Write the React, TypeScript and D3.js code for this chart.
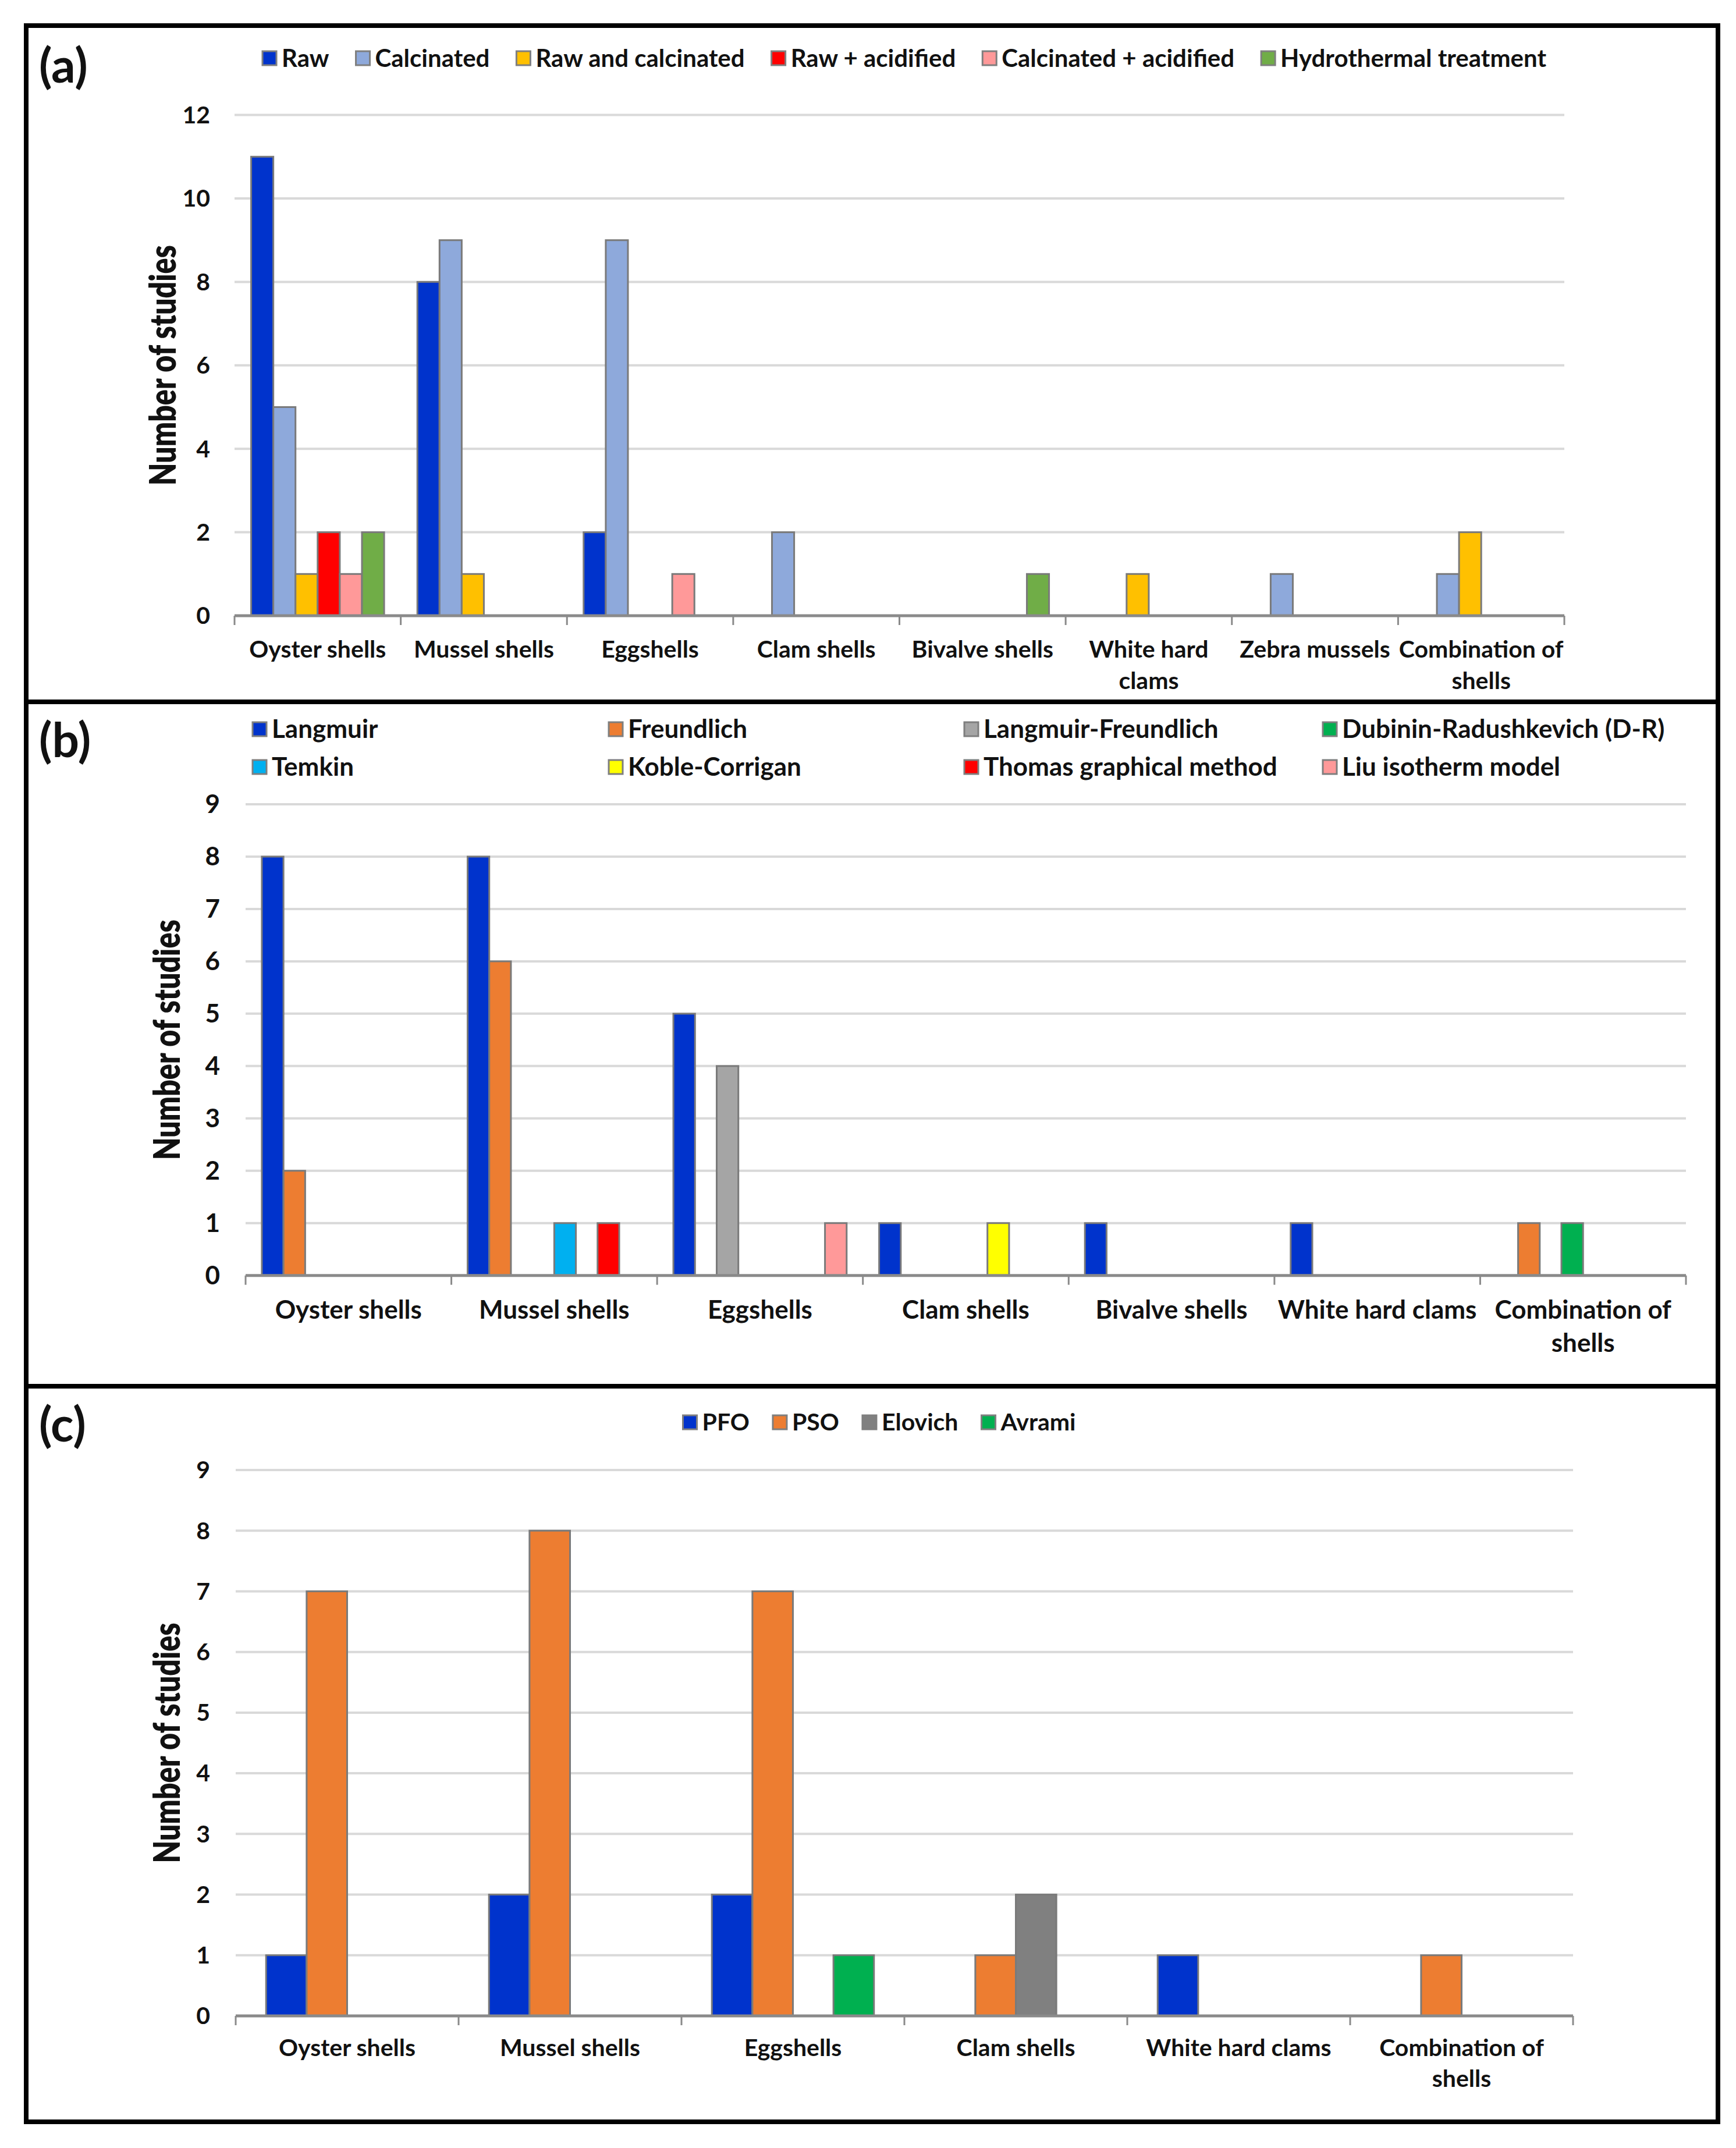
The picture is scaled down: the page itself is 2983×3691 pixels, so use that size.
import React, { useRef, useEffect } from 'react';
import * as d3 from 'd3';

const W = 2983;
const H = 3691;
const FONT = 'Lato, "Open Sans", sans-serif';

// (a) pre-treatment of the shells
const catsA = ['Oyster shells', 'Mussel shells', 'Eggshells', 'Clam shells', 'Bivalve shells', 'White hard\nclams', 'Zebra mussels', 'Combination of\nshells'];
const seriesA = ['Raw', 'Calcinated', 'Raw and calcinated', 'Raw + acidified', 'Calcinated + acidified', 'Hydrothermal treatment'];
const colorsA = ['#0033CC', '#8EA9DB', '#FFC000', '#FF0000', '#FF9999', '#70AD47'];
const rawA = [11, 8, 2, 0, 0, 0, 0, 0];
const calcinatedA = [5, 9, 9, 2, 0, 0, 1, 1];
const rawCalcA = [1, 1, 0, 0, 0, 1, 0, 2];
const rawAcidA = [2, 0, 0, 0, 0, 0, 0, 0];
const calcAcidA = [1, 0, 1, 0, 0, 0, 0, 0];
const hydroA = [2, 0, 0, 0, 1, 0, 0, 0];
const ticksA = [0, 2, 4, 6, 8, 10, 12];

// (b) isotherm models
const catsB = ['Oyster shells', 'Mussel shells', 'Eggshells', 'Clam shells', 'Bivalve shells', 'White hard clams', 'Combination of\nshells'];
const seriesB = ['Langmuir', 'Freundlich', 'Langmuir-Freundlich', 'Dubinin-Radushkevich (D-R)', 'Temkin', 'Koble-Corrigan', 'Thomas graphical method', 'Liu isotherm model'];
const colorsB = ['#0033CC', '#ED7D31', '#A5A5A5', '#00B050', '#00B0F0', '#FFFF00', '#FF0000', '#FF9999'];
const langmuirB = [8, 8, 5, 1, 1, 1, 0];
const freundlichB = [2, 6, 0, 0, 0, 0, 1];
const langFreundB = [0, 0, 4, 0, 0, 0, 0];
const drB = [0, 0, 0, 0, 0, 0, 1];
const temkinB = [0, 1, 0, 0, 0, 0, 0];
const kobleB = [0, 0, 0, 1, 0, 0, 0];
const thomasB = [0, 1, 0, 0, 0, 0, 0];
const liuB = [0, 0, 1, 0, 0, 0, 0];
const ticksB = [0, 1, 2, 3, 4, 5, 6, 7, 8, 9];

// (c) kinetic models
const catsC = ['Oyster shells', 'Mussel shells', 'Eggshells', 'Clam shells', 'White hard clams', 'Combination of\nshells'];
const seriesC = ['PFO', 'PSO', 'Elovich', 'Avrami'];
const colorsC = ['#0033CC', '#ED7D31', '#808080', '#00B050'];
const pfoC = [1, 2, 2, 0, 1, 0];
const psoC = [7, 8, 7, 1, 0, 1];
const elovichC = [0, 0, 0, 2, 0, 0];
const avramiC = [0, 0, 1, 0, 0, 0];
const ticksC = [0, 1, 2, 3, 4, 5, 6, 7, 8, 9];

type Panel = {
  tag: string;
  tagY: number;
  cats: string[];
  series: string[];
  colors: string[];
  values: number[][];
  ticks: number[];
  left: number;
  right: number;
  y0: number;
  yTop: number;
  tickX: number;
  titleX: number;
  labelY: number;
  lineH: number;
  fs: number;
  legend: (g: d3.Selection<SVGGElement, unknown, null, undefined>) => void;
};

function legendItem(g: d3.Selection<SVGGElement, unknown, null, undefined>, x: number, y: number, name: string, color: string, fs: number) {
  g.append('rect')
    .attr('x', x).attr('y', y - 12).attr('width', 24).attr('height', 24)
    .attr('fill', color).attr('stroke', '#7f7f7f').attr('stroke-width', 3);
  const t = g.append('text')
    .attr('x', x + 33).attr('y', y).attr('dy', '0.35em')
    .attr('font-size', fs).attr('font-weight', 700).attr('fill', '#111')
    .text(name);
  return (t.node() as SVGTextElement).getComputedTextLength() + 33;
}

function drawPanel(svg: d3.Selection<SVGSVGElement, unknown, null, undefined>, p: Panel) {
  const g = svg.append('g').attr('font-family', FONT);

  g.append('text')
    .attr('x', 67).attr('y', p.tagY)
    .attr('font-size', 82).attr('font-weight', 700).attr('fill', '#111')
    .text(p.tag);

  const x = d3.scaleBand<string>().domain(p.cats).range([p.left, p.right]).padding(0);
  const xs = d3.scaleBand<string>().domain(p.series).range([0, x.bandwidth()]).paddingInner(0).paddingOuter(0.75);
  const y = d3.scaleLinear().domain([0, p.ticks[p.ticks.length - 1]]).range([p.y0, p.yTop]);

  g.selectAll('line.grid')
    .data(p.ticks.filter(t => t > 0))
    .join('line')
    .attr('x1', p.left).attr('x2', p.right)
    .attr('y1', d => y(d)).attr('y2', d => y(d))
    .attr('stroke', '#D9D9D9').attr('stroke-width', 4);

  g.selectAll('text.tick')
    .data(p.ticks)
    .join('text')
    .attr('x', p.tickX).attr('y', d => y(d)).attr('dy', '0.35em')
    .attr('text-anchor', 'end')
    .attr('font-size', p.fs).attr('font-weight', 700).attr('fill', '#111')
    .text(d => d);

  p.series.forEach((s, si) => {
    g.selectAll(null)
      .data(p.cats.map((c, ci) => ({ c, v: p.values[si][ci] })).filter(d => d.v > 0))
      .join('rect')
      .attr('x', d => (x(d.c) as number) + (xs(s) as number))
      .attr('y', d => y(d.v))
      .attr('width', xs.bandwidth())
      .attr('height', d => p.y0 - y(d.v))
      .attr('fill', p.colors[si])
      .attr('stroke', '#7a7a7a').attr('stroke-width', 3);
  });

  g.append('line')
    .attr('x1', p.left).attr('x2', p.right)
    .attr('y1', p.y0).attr('y2', p.y0)
    .attr('stroke', '#8a8a8a').attr('stroke-width', 5);

  const bounds = p.cats.map(c => x(c) as number).concat([p.right]);
  g.selectAll('line.xt')
    .data(bounds)
    .join('line')
    .attr('x1', d => d).attr('x2', d => d)
    .attr('y1', p.y0).attr('y2', p.y0 + 16)
    .attr('stroke', '#8a8a8a').attr('stroke-width', 3);

  p.cats.forEach(c => {
    const t = g.append('text')
      .attr('text-anchor', 'middle')
      .attr('font-size', p.fs).attr('font-weight', 700).attr('fill', '#111');
    c.split('\n').forEach((line, li) => {
      t.append('tspan')
        .attr('x', (x(c) as number) + x.bandwidth() / 2)
        .attr('y', p.labelY + li * p.lineH)
        .text(line);
    });
  });

  // axis title: glyphs a bit taller than wide, like the original export
  g.append('text')
    .attr('transform', `translate(${p.titleX},${(p.y0 + p.yTop) / 2}) rotate(-90) scale(1,1.25)`)
    .attr('text-anchor', 'middle').attr('dy', '0.35em')
    .attr('font-size', 50).attr('font-weight', 800).attr('fill', '#111')
    .text('Number of studies');

  p.legend(g);
}

export default function App() {
  const ref = useRef<SVGSVGElement | null>(null);

  useEffect(() => {
    if (!ref.current) return;
    const svg = d3.select(ref.current);
    svg.selectAll('*').remove();

    svg.append('rect').attr('width', W).attr('height', H).attr('fill', '#fff');

    drawPanel(svg, {
      tag: '(a)', tagY: 142,
      cats: catsA, series: seriesA, colors: colorsA,
      values: [rawA, calcinatedA, rawCalcA, rawAcidA, calcAcidA, hydroA],
      ticks: ticksA,
      left: 403, right: 2688, y0: 1058, yTop: 197.6,
      tickX: 361, titleX: 280, labelY: 1130, lineH: 54, fs: 41,
      legend: g => {
        let lx = 451;
        seriesA.forEach((s, i) => {
          lx += legendItem(g, lx, 100, s, colorsA[i], 42) + 46;
        });
      },
    });

    drawPanel(svg, {
      tag: '(b)', tagY: 1301,
      cats: catsB, series: seriesB, colors: colorsB,
      values: [langmuirB, freundlichB, langFreundB, drB, temkinB, kobleB, thomasB, liuB],
      ticks: ticksB,
      left: 422, right: 2897, y0: 2191.7, yTop: 1382,
      tickX: 378, titleX: 287, labelY: 2266, lineH: 57, fs: 44,
      legend: g => {
        const cols = [434, 1046, 1657, 2273];
        seriesB.forEach((s, i) => {
          legendItem(g, cols[i % 4], i < 4 ? 1253 : 1318, s, colorsB[i], 44);
        });
      },
    });

    drawPanel(svg, {
      tag: '(c)', tagY: 2477,
      cats: catsC, series: seriesC, colors: colorsC,
      values: [pfoC, psoC, elovichC, avramiC],
      ticks: ticksC,
      left: 405, right: 2703, y0: 3464, yTop: 2526,
      tickX: 361, titleX: 287, labelY: 3533, lineH: 53, fs: 41,
      legend: g => {
        const lg = g.append('g');
        let lx = 0;
        seriesC.forEach((s, i) => {
          lx += legendItem(lg, lx, 2444, s, colorsC[i], 41) + 40;
        });
        lg.attr('transform', `translate(${1511 - (lx - 40) / 2},0)`);
      },
    });

    svg.append('rect')
      .attr('x', 45).attr('y', 44).attr('width', 2907).attr('height', 3602)
      .attr('fill', 'none').attr('stroke', '#000').attr('stroke-width', 8);
    [1206, 2382].forEach(yy => {
      svg.append('line')
        .attr('x1', 45).attr('x2', 2952).attr('y1', yy).attr('y2', yy)
        .attr('stroke', '#000').attr('stroke-width', 8);
    });
  }, []);

  return (
    <svg ref={ref} width={W} height={H} style={{ position: 'absolute', left: 0, top: 0, display: 'block' }} />
  );
}
